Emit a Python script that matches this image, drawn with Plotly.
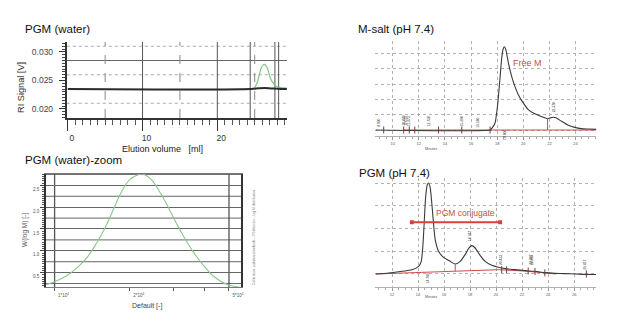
import plotly.graph_objects as go

W, H = 617, 324
OFF = 8  # page body margin of the browser
FW, FH = W - OFF, H - OFF
FONT = "Liberation Sans, Arial, sans-serif"
RED = "#c0504d"

# ---------------- Panel 1: PGM (water) RI signal ----------------
p1_black_x = [0, 24.5, 25.5, 26.3, 27.2, 28.5, 29.3]
p1_black_y = [0.0235, 0.0235, 0.02362, 0.02368, 0.0236, 0.0235, 0.0235]
p1_green_x = [0, 24.5, 24.9, 25.3, 25.6, 26.0, 26.3, 26.7, 27.1, 27.5, 27.8, 28.5, 29.3]
p1_green_y = [0.02351, 0.02352, 0.02363, 0.0245, 0.02596, 0.02754, 0.02784, 0.02714,
              0.02538, 0.0245, 0.02403, 0.02374, 0.02365]
p1_xticks = [0, 10, 20]
p1_yticks = [0.020, 0.025, 0.030]
p1_yticktext = ["0.020", "0.025", "0.030"]
p1_marker_x = [0, 24.4, 27.7, 28.3]
p1_marker_col = ["#3b4fc4", "#e23a3a", "#3b4fc4", "#e23a3a"]
p1_hgrid_solid = [0.0285]
p1_hgrid_dot = [0.031, 0.026, 0.021]
p1_vgrid_solid = [10, 20, 24.4, 27.7, 28.2]
p1_vgrid_dash = [5, 15, 25]
p1_xrange = [-0.13, 29.33]
p1_yrange = [0.01842, 0.03175]

# ---------------- Panel 2: PGM (water)-zoom, W(log M) ----------------
p2_M = [9120, 10000, 11140, 12220, 13400, 14700, 15880, 17150, 18520, 20010, 21600,
        22300, 22980, 24440, 26400, 28510, 30800, 33270, 35930, 39410, 43220, 47430,
        50440, 55340]
p2_W = [0.217, 0.292, 0.422, 0.598, 0.826, 1.169, 1.511, 1.929, 2.347, 2.630, 2.745,
        2.76, 2.745, 2.630, 2.347, 2.005, 1.626, 1.283, 0.977, 0.674, 0.422, 0.269,
        0.210, 0.164]
p2_xticks = [1e4, 2e4, 5e4]
p2_xticktext = ["1*10<sup>4</sup>", "2*10<sup>4</sup>", "5*10<sup>4</sup>"]
p2_xminor = [3e4, 4e4]
p2_yticks = [0.5, 1.0, 1.5, 2.0, 2.5]
p2_yticktext = ["0.5", "1.0", "1.5", "2.0", "2.5"]
p2_ygrid_mid = [0.25, 0.75, 1.25, 1.75, 2.25, 2.75]
p2_vlines = [1e4, 5e4]
p2_xrange = [3.965, 4.748]
p2_yrange = [0.164, 2.76]

# ---------------- Panel 3: M-salt (pH 7.4) ----------------
p3_t = [8.68, 17.46, 17.58, 17.84, 18.04, 18.22, 18.35, 18.47, 18.56, 18.68, 18.86,
        19.11, 19.36, 19.62, 20.0, 20.38, 20.76, 21.15, 21.53, 21.86, 22.04, 22.29,
        22.54, 22.93, 23.44, 23.94, 24.45, 24.96, 25.6]
p3_v = [0, 0, 0.09, 0.46, 1.66, 3.40, 4.71, 5.33, 5.44, 5.2, 4.38, 3.51, 2.85, 2.31,
        1.77, 1.33, 1.11, 0.96, 0.83, 0.74, 0.78, 0.83, 0.78, 0.57, 0.31, 0.17, 0.09,
        0.065, 0.044]
p3_base_t = [10.84, 25.6]
p3_base_v = [0, 0]
p3_cut_t = [21.86, 21.86]
p3_cut_v = [0, 0.74]
p3_tick_t = [9.31, 10.84, 11.27, 11.69, 13.51, 15.29, 17.46]
p3_lbl_t = [8.93, 10.84, 11.02, 11.27, 12.75, 15.29, 16.56, 18.60, 22.37]
p3_lbl_v = [0.45, 0.6, 0.6, 0.6, 0.55, 0.55, 0.5, -0.32, 1.5]
p3_lbl_txt = ["8.930", "10.840", "11.015", "11.273", "12.750", "15.290", "16.560",
              "18.600", "22.370"]
p3_xticks = [10, 12, 14, 16, 18, 20, 22, 24]
p3_note_t, p3_note_v = 20.34, 4.41
p3_xrange = [8.68, 25.6]
p3_yrange = [-0.392, 5.817]

# ---------------- Panel 4: PGM (pH 7.4) ----------------
p4_t = [10.73, 11.75, 12.77, 13.54, 14.05, 14.25, 14.38, 14.48, 14.58, 14.71, 14.81,
        14.94, 15.07, 15.20, 15.32, 15.58, 15.96, 16.47, 16.86, 17.24, 17.62, 17.88,
        18.13, 18.39, 18.77, 19.16, 19.67, 20.18, 20.69, 21.45, 22.22, 22.99, 23.75,
        24.52, 25.29, 26.05, 26.69, 27.71]
p4_v = [0, 0.044, 0.118, 0.191, 0.338, 0.558, 1.292, 2.320, 3.348, 3.935, 4.009, 3.789,
        3.054, 2.173, 1.512, 0.999, 0.734, 0.558, 0.44, 0.558, 0.852, 1.116, 1.248,
        1.145, 0.822, 0.558, 0.382, 0.294, 0.235, 0.191, 0.147, 0.118, 0.059, 0.029,
        0.015, 0, -0.015, -0.02]
p4_base_t = [10.73, 14.0, 16.86, 20.2, 22.2, 23.9, 24.6]
p4_base_v = [0, 0.06, 0.12, 0.19, 0.13, 0.045, 0.0]
p4_cut_t = [16.86, 16.86]
p4_cut_v = [0.12, 0.44]
p4_tick_t = [20.43, 20.81, 22.47, 22.99, 23.75, 26.94]
p4_tick_v = [0.19, 0.18, 0.13, 0.11, 0.05, 0.0]
p4_lbl_t = [14.76, 18.01, 20.43, 22.70, 22.80, 26.82]
p4_lbl_v = [-0.2, 1.68, 0.6, 0.64, 0.64, 0.4]
p4_lbl_txt = ["14.760", "18.187", "20.433", "22.727", "22.805", "26.817"]
p4_conj_t = [13.53, 20.31]
p4_conj_v = [2.28, 2.28]
p4_note_t, p4_note_v = 17.62, 2.69
p4_xticks = [12, 14, 16, 18, 20, 22, 24, 26]
p4_xrange = [10.73, 27.71]
p4_yrange = [-0.573, 4.229]


def px_x(p):
    return (p - OFF) / FW


def px_y(p):
    return 1 - (p - OFF) / FH


fig = go.Figure()

# Panel 1 traces
fig.add_trace(go.Scatter(x=p1_green_x, y=p1_green_y, mode="lines", line=dict(color="#86c486", width=1.2),
                         line_shape="spline", xaxis="x", yaxis="y", hoverinfo="skip"))
fig.add_trace(go.Scatter(x=p1_black_x, y=p1_black_y, mode="lines", line=dict(color="#2b2b2b", width=2),
                         line_shape="spline", xaxis="x", yaxis="y", hoverinfo="skip"))
fig.add_trace(go.Scatter(x=p1_marker_x, y=[p1_yrange[0] - 0.00095] * len(p1_marker_x), mode="markers",
                         marker=dict(symbol="triangle-up", size=6, color=p1_marker_col),
                         cliponaxis=False, xaxis="x", yaxis="y", hoverinfo="skip"))

# Panel 2 traces
fig.add_trace(go.Scatter(x=p2_M, y=p2_W, mode="lines", line=dict(color="#8cc68c", width=1.1),
                         line_shape="spline", xaxis="x2", yaxis="y2", hoverinfo="skip"))

# Panel 3 traces
fig.add_trace(go.Scatter(x=p3_base_t, y=p3_base_v, mode="lines", line=dict(color="#d24a4a", width=1),
                         xaxis="x3", yaxis="y3", hoverinfo="skip"))
fig.add_trace(go.Scatter(x=p3_t, y=p3_v, mode="lines", line=dict(color="#3a3a3a", width=1.1),
                         line_shape="spline", line_smoothing=0.5, xaxis="x3", yaxis="y3", hoverinfo="skip"))
fig.add_trace(go.Scatter(x=p3_cut_t, y=p3_cut_v, mode="lines", line=dict(color="#d24a4a", width=1),
                         xaxis="x3", yaxis="y3", hoverinfo="skip"))
fig.add_trace(go.Scatter(x=p3_tick_t, y=[0] * len(p3_tick_t), mode="markers",
                         marker=dict(symbol="line-ns-open", size=5, color="#7a3a3a", line=dict(width=1)),
                         xaxis="x3", yaxis="y3", hoverinfo="skip"))

# Panel 4 traces
fig.add_trace(go.Scatter(x=p4_base_t, y=p4_base_v, mode="lines", line=dict(color="#d24a4a", width=1),
                         xaxis="x4", yaxis="y4", hoverinfo="skip"))
fig.add_trace(go.Scatter(x=p4_t, y=p4_v, mode="lines", line=dict(color="#3a3a3a", width=1.1),
                         line_shape="spline", line_smoothing=0.5, xaxis="x4", yaxis="y4", hoverinfo="skip"))
fig.add_trace(go.Scatter(x=p4_cut_t, y=p4_cut_v, mode="lines", line=dict(color="#d24a4a", width=1),
                         xaxis="x4", yaxis="y4", hoverinfo="skip"))
fig.add_trace(go.Scatter(x=p4_tick_t, y=p4_tick_v, mode="markers",
                         marker=dict(symbol="line-ns-open", size=5, color="#7a3a3a", line=dict(width=1)),
                         xaxis="x4", yaxis="y4", hoverinfo="skip"))
fig.add_trace(go.Scatter(x=p4_conj_t, y=p4_conj_v, mode="lines+markers",
                         line=dict(color="#d9413f", width=2.2),
                         marker=dict(symbol="square", size=4, color="#d9413f"),
                         xaxis="x4", yaxis="y4", hoverinfo="skip"))

shapes = []
# Panel 1 grid
for v in p1_hgrid_solid:
    shapes.append(dict(type="line", xref="x domain", yref="y", x0=0, x1=1, y0=v, y1=v,
                       line=dict(color="#666", width=1), layer="below"))
for v in p1_hgrid_dot:
    shapes.append(dict(type="line", xref="x domain", yref="y", x0=0, x1=1, y0=v, y1=v,
                       line=dict(color="#aaa", width=1, dash="dot"), layer="below"))
for v in p1_vgrid_solid:
    shapes.append(dict(type="line", xref="x", yref="y domain", x0=v, x1=v, y0=0, y1=1,
                       line=dict(color="#555", width=1), layer="below"))
for v in p1_vgrid_dash:
    shapes.append(dict(type="line", xref="x", yref="y domain", x0=v, x1=v, y0=0, y1=1,
                       line=dict(color="#888", width=1, dash="dash"), layer="below"))
# Panel 2 grid (intermediate lines) and limit lines
for v in p2_ygrid_mid:
    shapes.append(dict(type="line", xref="x2 domain", yref="y2", x0=0, x1=1, y0=v, y1=v,
                       line=dict(color="#666", width=1), layer="below"))
for v in p2_vlines:
    shapes.append(dict(type="line", xref="x2", yref="y2 domain", x0=v, x1=v, y0=0, y1=1,
                       line=dict(color="#555", width=1.3), layer="below"))

annotations = []


def ann(text, x, y, size, color="#000", angle=0, xanchor="center", yanchor="middle", **kw):
    annotations.append(dict(text=text, x=x, y=y, showarrow=False, textangle=angle,
                            font=dict(family=FONT, size=size, color=color),
                            xanchor=xanchor, yanchor=yanchor, **kw))


# Titles (paper coords)
for txt, xp, yp in [("PGM (water)", 22.7, 29.3), ("M-salt (pH 7.4)", 356.7, 29.3),
                    ("PGM (water)-zoom", 22.7, 160), ("PGM (pH 7.4)", 358.3, 173.3)]:
    ann(txt, px_x(xp), px_y(yp), 11.5, "#111", xanchor="left", xref="paper", yref="paper")

# Axis titles
ann("Elution volume\u00a0\u00a0\u00a0[ml]", px_x(163), px_y(149), 9, "#222", xref="paper", yref="paper")
ann("RI Signal [V]", px_x(21), px_y(87), 9.2, "#333", angle=-90, xref="paper", yref="paper")
ann("W(log M) [-]", px_x(25), px_y(230), 6.5, "#555", angle=-90, xref="paper", yref="paper")
ann("Default [-]", px_x(147), px_y(305.7), 7, "#444", xref="paper", yref="paper")
ann("Minutes", px_x(433.3), px_y(149.3), 3.5, "#555", xref="paper", yref="paper")
ann("Minutes", px_x(433.3), px_y(296.7), 3.5, "#555", xref="paper", yref="paper")
ann("Calibration: pullulan standards \u2013 RI detector \u2013 log M distribution",
    px_x(255), px_y(238), 3.4, "#777", angle=-90, xref="paper", yref="paper")

# Panel notes
ann("Free M", p3_note_t, p3_note_v, 9, RED, xref="x3", yref="y3")
ann("PGM conjugate", p4_note_t, p4_note_v, 8.5, RED, xref="x4", yref="y4")

# tiny retention-time labels
for t, v, s in zip(p3_lbl_t, p3_lbl_v, p3_lbl_txt):
    ann(s, t, v, 3.3, "#333", angle=-90, xref="x3", yref="y3")
for t, v, s in zip(p4_lbl_t, p4_lbl_v, p4_lbl_txt):
    ann(s, t, v, 3.3, "#333", angle=-90, xref="x4", yref="y4")

tickfont_small = dict(family=FONT, size=4, color="#555")
GRID = "#b2b2b2"

fig.update_layout(
    width=FW, height=FH, margin=dict(l=0, r=0, t=0, b=0),
    paper_bgcolor="white", plot_bgcolor="rgba(0,0,0,0)", showlegend=False,
    shapes=shapes, annotations=annotations,
    xaxis=dict(domain=[px_x(67), px_x(288)], range=p1_xrange, anchor="y",
               tickmode="array", tickvals=p1_xticks, ticktext=[str(v) for v in p1_xticks],
               ticks="outside", ticklen=11, tickcolor="#333", tickwidth=1.2,
               minor=dict(tickmode="linear", tick0=0, dtick=1, ticks="outside", ticklen=5,
                          tickcolor="#555", showgrid=False),
               ticklabelshift=4, tickfont=dict(family=FONT, size=8.5, color="#333"),
               showline=True, linecolor="#333", linewidth=1.6, showgrid=False, zeroline=False),
    yaxis=dict(domain=[px_y(118), px_y(42)], range=p1_yrange, anchor="x",
               tickmode="array", tickvals=p1_yticks, ticktext=p1_yticktext,
               ticks="outside", ticklen=6, tickcolor="#333",
               minor=dict(tickmode="linear", tick0=0, dtick=0.0005, ticks="outside", ticklen=3,
                          tickcolor="#444", showgrid=False),
               tickfont=dict(family=FONT, size=8.5, color="#444"), ticklabelstandoff=4,
               showline=True, linecolor="#333", linewidth=2, showgrid=False, zeroline=False),
    xaxis2=dict(domain=[px_x(46), px_x(242)], type="log", range=p2_xrange, anchor="y2",
                tickmode="array", tickvals=p2_xticks, ticktext=p2_xticktext,
                ticks="outside", ticklen=3, tickcolor="#555", ticklabelshift=9,
                minor=dict(tickmode="array", tickvals=p2_xminor, ticks="outside", ticklen=3,
                           tickcolor="#555", showgrid=False),
                tickfont=dict(family=FONT, size=4.5, color="#555"),
                showline=True, linecolor="#777", linewidth=1, mirror=True,
                showgrid=False, zeroline=False),
    yaxis2=dict(domain=[px_y(287.3), px_y(174)], range=p2_yrange, anchor="x2",
                tickmode="array", tickvals=p2_yticks, ticktext=p2_yticktext,
                ticks="outside", ticklen=4, tickcolor="#444", ticklabelshift=4,
                minor=dict(tickmode="linear", tick0=0, dtick=0.05, ticks="outside", ticklen=2,
                           tickcolor="#555", showgrid=False),
                tickfont=dict(family=FONT, size=4.5, color="#555"),
                showgrid=True, gridcolor="#666", gridwidth=1,
                showline=True, linecolor="#333", linewidth=1.6, mirror=True, zeroline=False),
    xaxis3=dict(domain=[px_x(376.7), px_x(598.3)], range=p3_xrange, anchor="y3",
                tickmode="array", tickvals=p3_xticks, ticks="outside", ticklen=3, tickcolor="#999",
                minor=dict(tickmode="linear", tick0=0, dtick=0.5, ticks="outside", ticklen=1.5,
                           tickcolor="#aaa", showgrid=False),
                tickfont=tickfont_small, showgrid=True, gridcolor=GRID, griddash="dot",
                showline=True, linecolor="#b0b0b0", linewidth=1, zeroline=False),
    yaxis3=dict(domain=[px_y(136), px_y(41)], range=p3_yrange, anchor="x3",
                tickmode="linear", tick0=0, dtick=1, showticklabels=False,
                showgrid=True, gridcolor=GRID, griddash="dot", zeroline=False, showline=False),
    xaxis4=dict(domain=[px_x(376.7), px_x(598.3)], range=p4_xrange, anchor="y4",
                tickmode="array", tickvals=p4_xticks, ticks="outside", ticklen=3, tickcolor="#999",
                minor=dict(tickmode="linear", tick0=0, dtick=0.5, ticks="outside", ticklen=1.5,
                           tickcolor="#aaa", showgrid=False),
                tickfont=tickfont_small, showgrid=True, gridcolor=GRID, griddash="dot",
                showline=True, linecolor="#b0b0b0", linewidth=1, zeroline=False),
    yaxis4=dict(domain=[px_y(287), px_y(178)], range=p4_yrange, anchor="x4",
                tickmode="linear", tick0=0, dtick=1, showticklabels=False,
                showgrid=True, gridcolor=GRID, griddash="dot", zeroline=False, showline=False),
)

fig.write_html("out.html")
